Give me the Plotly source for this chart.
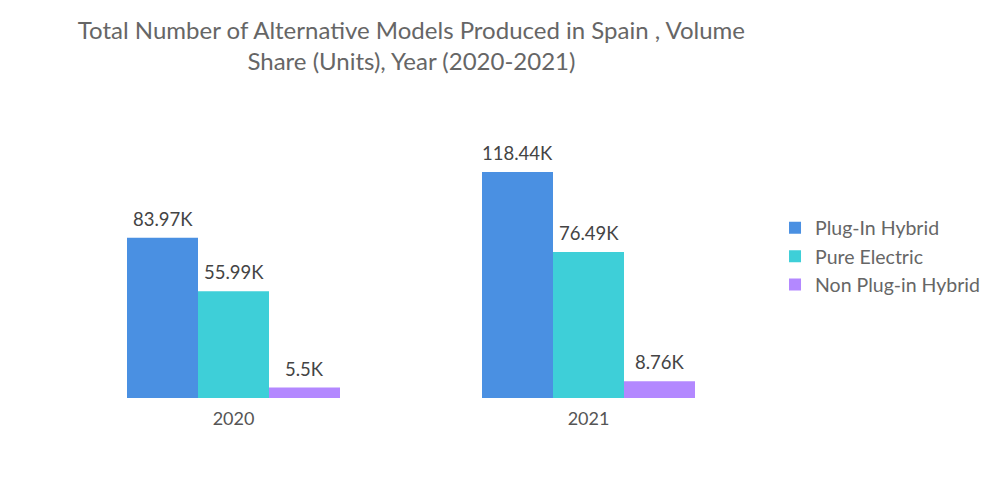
import plotly.graph_objects as go

years = ["2020", "2021"]
series_names = ["Plug-In Hybrid", "Pure Electric", "Non Plug-in Hybrid"]
plug_in_hybrid = [83.97, 118.44]
pure_electric = [55.99, 76.49]
non_plug_in_hybrid = [5.5, 8.76]
labels = [["83.97K", "118.44K"], ["55.99K", "76.49K"], ["5.5K", "8.76K"]]
colors = ["#4a90e2", "#3ecfd8", "#b388ff"]

series_values = [plug_in_hybrid, pure_electric, non_plug_in_hybrid]

fig = go.Figure()
for name, vals, col in zip(series_names, series_values, colors):
    fig.add_trace(go.Bar(
        x=years, y=vals, name=name, marker=dict(color=col, line=dict(width=0)),
    ))

bar_px = 71
for i, (vals, lab) in enumerate(zip(series_values, labels)):
    for j, (v, t) in enumerate(zip(vals, lab)):
        fig.add_annotation(
            x=j, y=v, xref="x", yref="y", text=t, showarrow=False,
            xanchor="center", yanchor="bottom",
            xshift=(i - 1) * bar_px, yshift=6,
            font=dict(size=18.5, color="#444444", family="Lato, sans-serif"),
        )

fig.update_layout(
    width=984, height=488,
    paper_bgcolor="white", plot_bgcolor="white",
    barmode="group", bargap=0.4, bargroupgap=0,
    margin=dict(l=48, r=226, t=142, b=98, autoexpand=False),
    font=dict(family="Lato, sans-serif", color="#666666"),
    title=dict(
        text="Total Number of Alternative Models Produced in Spain , Volume<br>Share (Units), Year (2020-2021)",
        x=0.410, xanchor="center", y=0.937, yanchor="top",
        font=dict(size=24, color="#666666", family="Lato, sans-serif"),
    ),
    xaxis=dict(type="category", range=[-0.5, 1.5], showgrid=False, showline=False, ticks="",
               ticklabelstandoff=8, tickfont=dict(size=18, color="#555555")),
    yaxis=dict(range=[0, 130], visible=False, showgrid=False),
    legend=dict(x=1.0127, xanchor="left", y=0.57, yanchor="middle",
                font=dict(size=19.5, color="#666666"), itemwidth=30, tracegroupgap=4),
)
fig.write_html("out.html")
